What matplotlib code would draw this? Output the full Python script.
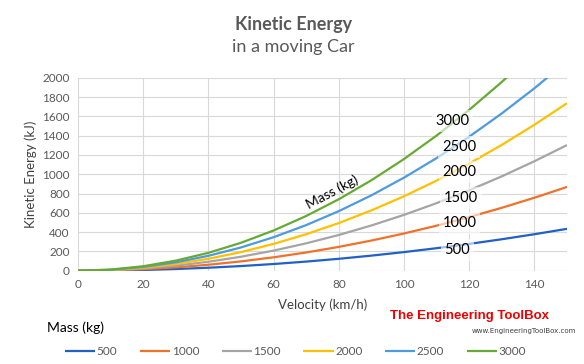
import matplotlib
matplotlib.use("Agg")
import matplotlib.pyplot as plt

plt.rcParams['font.family'] = ['Lato', 'DejaVu Sans']

# velocity (km/h) and kinetic energy (kJ)
velocity = [0, 10, 20, 30, 40, 50, 60, 70, 80, 90, 100, 110, 120, 130, 140, 150]
e_500 = [0, 1.9, 7.7, 17.4, 30.9, 48.2, 69.4, 94.5, 123.5, 156.3, 192.9, 233.4, 277.8, 326.0, 378.1, 434.0]
e_1000 = [0, 3.9, 15.4, 34.7, 61.7, 96.5, 138.9, 189.0, 246.9, 312.5, 385.8, 466.8, 555.6, 652.0, 756.2, 868.1]
e_1500 = [0, 5.8, 23.1, 52.1, 92.6, 144.7, 208.3, 283.6, 370.4, 468.7, 578.7, 700.2, 833.3, 978.0, 1134.3, 1302.1]
e_2000 = [0, 7.7, 30.9, 69.4, 123.5, 192.9, 277.8, 378.1, 493.8, 625.0, 771.6, 933.6, 1111.1, 1304.0, 1512.3, 1736.1]
e_2500 = [0, 9.6, 38.6, 86.8, 154.3, 241.1, 347.2, 472.6, 617.3, 781.2, 964.5, 1167.0, 1388.9, 1630.0, 1890.4, 2170.1]
e_3000 = [0, 11.6, 46.3, 104.2, 185.2, 289.4, 416.7, 567.1, 740.7, 937.5, 1157.4, 1400.5, 1666.7, 1956.0, 2268.5, 2604.2]

masses = ["500", "1000", "1500", "2000", "2500", "3000"]
series = [e_500, e_1000, e_1500, e_2000, e_2500, e_3000]
colors = ["#2160C4", "#F0712A", "#A5A5A5", "#FFC000", "#4D9BDF", "#66AA33"]

# inline labels (velocity, energy) where the mass names sit on the curves
label_x = [116.3, 117.0, 117.5, 117.0, 116.9, 114.8]
label_y = [215, 493, 752, 1022, 1281, 1551]

fig = plt.figure(figsize=(5.84, 3.64), dpi=100)
ax = fig.add_axes([0.1336, 0.2563, 0.8373, 0.5302])

for m, e, c in zip(masses, series, colors):
    ax.plot(velocity, e, color=c, lw=1.6, label=m, solid_capstyle='butt')

for m, x, y in zip(masses, label_x, label_y):
    ax.text(x, y, m, fontsize=10.5, color='black', ha='center', va='center',
            bbox=dict(boxstyle='square,pad=0.25', fc='white', ec='none', alpha=0.6))

ax.text(78, 815, "Mass (kg)", fontsize=10, rotation=28, ha='center', va='center', color='black')

ax.set_xlim(0, 150)
ax.set_ylim(0, 2000)
ax.set_xticks(range(0, 141, 20))
ax.set_yticks(range(0, 2001, 200))
ax.grid(True, color='#D9D9D9', lw=0.8)
ax.set_axisbelow(True)
for s in ax.spines.values():
    s.set_visible(False)
ax.tick_params(length=0, labelsize=8.5, labelcolor='#595959', pad=6)

ax.set_xlabel("Velocity (km/h)", fontsize=9.5, color='#404040', labelpad=6)
ax.set_ylabel("Kinetic Energy (kJ)", fontsize=9.5, color='#404040', labelpad=4)

fig.text(0.503, 0.932, "Kinetic Energy", fontsize=13, fontweight='bold', color='#595959', ha='center', va='center')
fig.text(0.503, 0.872, "in a moving Car", fontsize=13, color='#595959', ha='center', va='center')

fig.legend(loc='center', bbox_to_anchor=(0.506, 0.033), ncol=6, frameon=False,
           fontsize=8.5, handlelength=2.55, handletextpad=0.15, columnspacing=1.9,
           labelcolor='#595959')
fig.text(47 / 584, 1 - 328 / 364, "Mass (kg)", fontsize=10, color='black', ha='left', va='center')

fig.text(469 / 584, 1 - 316 / 364, "The Engineering ToolBox", fontsize=9.5, fontweight='bold',
         color='#EE0000', ha='center', va='center', family=['Liberation Sans', 'DejaVu Sans'])
fig.text(576 / 584, 1 - 331 / 364, "www.EngineeringToolBox.com", fontsize=5, color='#404040',
         ha='right', va='center', family=['DejaVu Sans'])

fig.savefig("out.png", dpi=100)
